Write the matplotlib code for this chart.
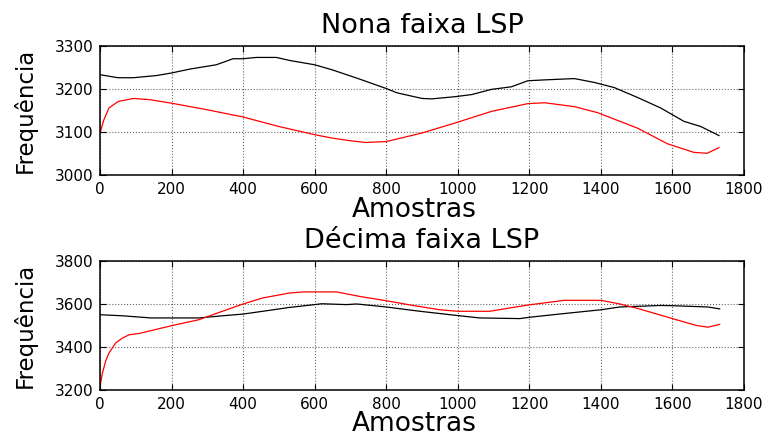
import numpy as np
import matplotlib
matplotlib.use('Agg')
import matplotlib.pyplot as plt

# --- dados ---
# Nona faixa LSP
nona_x_preto = [0, 50, 93, 158, 200, 251, 325, 372, 400, 437, 493, 530, 600, 650, 725,
                800, 830, 900, 927, 992, 1039, 1094, 1150, 1196, 1243, 1326, 1382,
                1438, 1503, 1567, 1632, 1679, 1730]
nona_y_preto = [3233, 3226, 3226, 3231, 3237, 3246, 3256, 3270, 3270, 3273, 3273, 3266,
                3256, 3244, 3223, 3201, 3191, 3178, 3177, 3182, 3187, 3199, 3205, 3219,
                3221, 3224, 3215, 3203, 3180, 3156, 3125, 3113, 3092]

nona_x_verm = [0, 11, 25, 51, 93, 140, 200, 298, 400, 500, 600, 650, 700, 742, 800,
               900, 992, 1094, 1196, 1243, 1326, 1391, 1503, 1586, 1660, 1697, 1730]
nona_y_verm = [3098, 3129, 3156, 3171, 3178, 3175, 3167, 3152, 3135, 3113, 3094, 3086,
               3080, 3076, 3078, 3098, 3121, 3148, 3166, 3168, 3159, 3145, 3109, 3073,
               3053, 3051, 3064]

# Décima faixa LSP
dec_x_preto = [0, 63, 143, 200, 277, 342, 400, 455, 530, 600, 620, 689, 717, 800, 894,
               1000, 1061, 1173, 1200, 1266, 1400, 1453, 1566, 1600, 1699, 1732]
dec_y_preto = [3550, 3545, 3535, 3535, 3535, 3545, 3553, 3566, 3584, 3597, 3601, 3597,
               3600, 3586, 3566, 3546, 3535, 3532, 3538, 3550, 3573, 3586, 3593, 3592,
               3586, 3577]

dec_x_verm = [0, 6, 16, 25, 44, 63, 82, 110, 200, 277, 342, 400, 455, 530, 568, 661,
              726, 800, 875, 950, 1000, 1089, 1173, 1200, 1299, 1400, 1453, 1499, 1600,
              1667, 1699, 1732]
dec_y_verm = [3214, 3274, 3336, 3372, 3419, 3442, 3457, 3463, 3499, 3527, 3566, 3600,
              3628, 3651, 3656, 3656, 3635, 3615, 3593, 3573, 3566, 3566, 3589, 3596,
              3617, 3617, 3600, 3581, 3532, 3500, 3492, 3505]

xticks = np.arange(0, 1801, 200)
yticks_nona = [3000, 3100, 3200, 3300]
yticks_dec = [3200, 3400, 3600, 3800]

fig = plt.figure(figsize=(7.67, 4.36), dpi=100)
fig.patch.set_facecolor('white')

ax1 = fig.add_axes([0.1304, 0.598, 0.8396, 0.297])
ax2 = fig.add_axes([0.1304, 0.1055, 0.8396, 0.296])


def estilo(ax, titulo, yticks):
    """estilo tipo MATLAB: caixa, grade pontilhada, ticks para dentro"""
    ax.set_xlim(0, 1800)
    ax.set_ylim(yticks[0], yticks[-1])
    ax.set_xticks(xticks)
    ax.set_yticks(yticks)
    ax.tick_params(direction='in', length=4, top=True, right=True,
                   labelsize=11, pad=5, width=0.8)
    ax.grid(True, color='0.4', linestyle=':', linewidth=0.8)
    for s in ax.spines.values():
        s.set_linewidth(1.1)
    ax.set_title(titulo, fontsize=19.5, pad=9)
    ax.set_xlabel('Amostras', fontsize=19)
    ax.set_ylabel('Frequência', fontsize=16.5)
    ax.xaxis.set_label_coords(0.488, -0.165)
    ax.yaxis.set_label_coords(-0.098, 0.5)


ax1.plot(nona_x_preto, nona_y_preto, color='black', linewidth=0.9)
ax1.plot(nona_x_verm, nona_y_verm, color='#ff0000', linewidth=0.9)
estilo(ax1, 'Nona faixa LSP', yticks_nona)

ax2.plot(dec_x_preto, dec_y_preto, color='black', linewidth=0.9)
ax2.plot(dec_x_verm, dec_y_verm, color='#ff0000', linewidth=0.9)
estilo(ax2, 'Décima faixa LSP', yticks_dec)

fig.savefig('out.png', dpi=100)
